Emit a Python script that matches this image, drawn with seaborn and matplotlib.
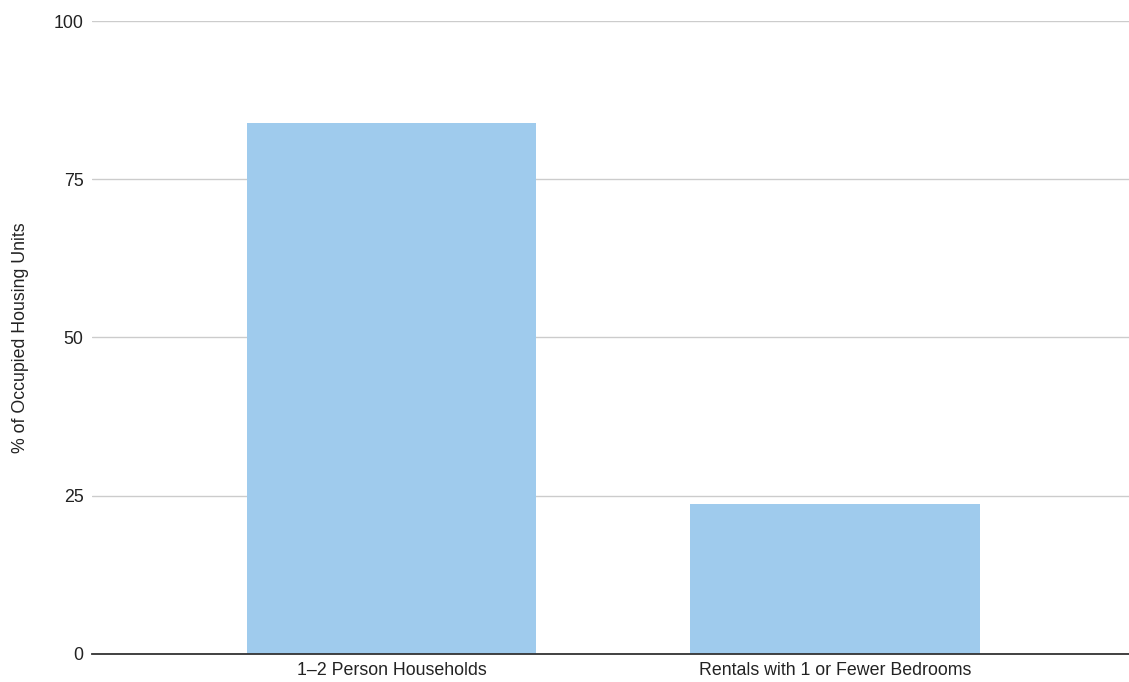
import matplotlib
matplotlib.use("Agg")
import matplotlib.pyplot as plt
import seaborn as sns
import pandas as pd

categories = ["1–2 Person Households", "Rentals with 1 or Fewer Bedrooms"]
values = [83.8, 23.6]
y_ticks = [0, 25, 50, 75, 100]
y_label = "% of Occupied Housing Units"

sns.set_theme(style="white")
plt.rcParams["font.family"] = ["Liberation Sans", "DejaVu Sans"]

df = pd.DataFrame({"category": categories, "value": values})

fig = plt.figure(figsize=(11.29, 6.82), dpi=100)
ax = fig.add_axes([92 / 1129, (682 - 653.7) / 682, 1 - 92 / 1129, (653.7 - 21) / 682])

sns.barplot(data=df, x="category", y="value", order=categories, color="#9fcbed",
            saturation=1, width=0.652, ax=ax, zorder=3)
for p in ax.patches:
    p.set_edgecolor("none")

ax.set_ylim(0, 100)
ax.set_xlim(-0.675, 1.663)
ax.set_yticks(y_ticks)
ax.set_yticklabels([str(t) for t in y_ticks])
ax.yaxis.grid(True, color="#cccccc", linewidth=1.0, zorder=0)
ax.xaxis.grid(False)
for s in ["top", "right", "left"]:
    ax.spines[s].set_visible(False)
ax.spines["bottom"].set_color("#333333")
ax.spines["bottom"].set_linewidth(1.3)
ax.spines["bottom"].set_zorder(4)
ax.tick_params(axis="both", length=0, labelsize=12.8, colors="#222222")
ax.tick_params(axis="y", pad=6)
ax.tick_params(axis="x", pad=6)
ax.set_xlabel("")
ax.set_ylabel(y_label, fontsize=12.8, color="#222222", labelpad=18)

fig.savefig("out.png", dpi=100, facecolor="white")
